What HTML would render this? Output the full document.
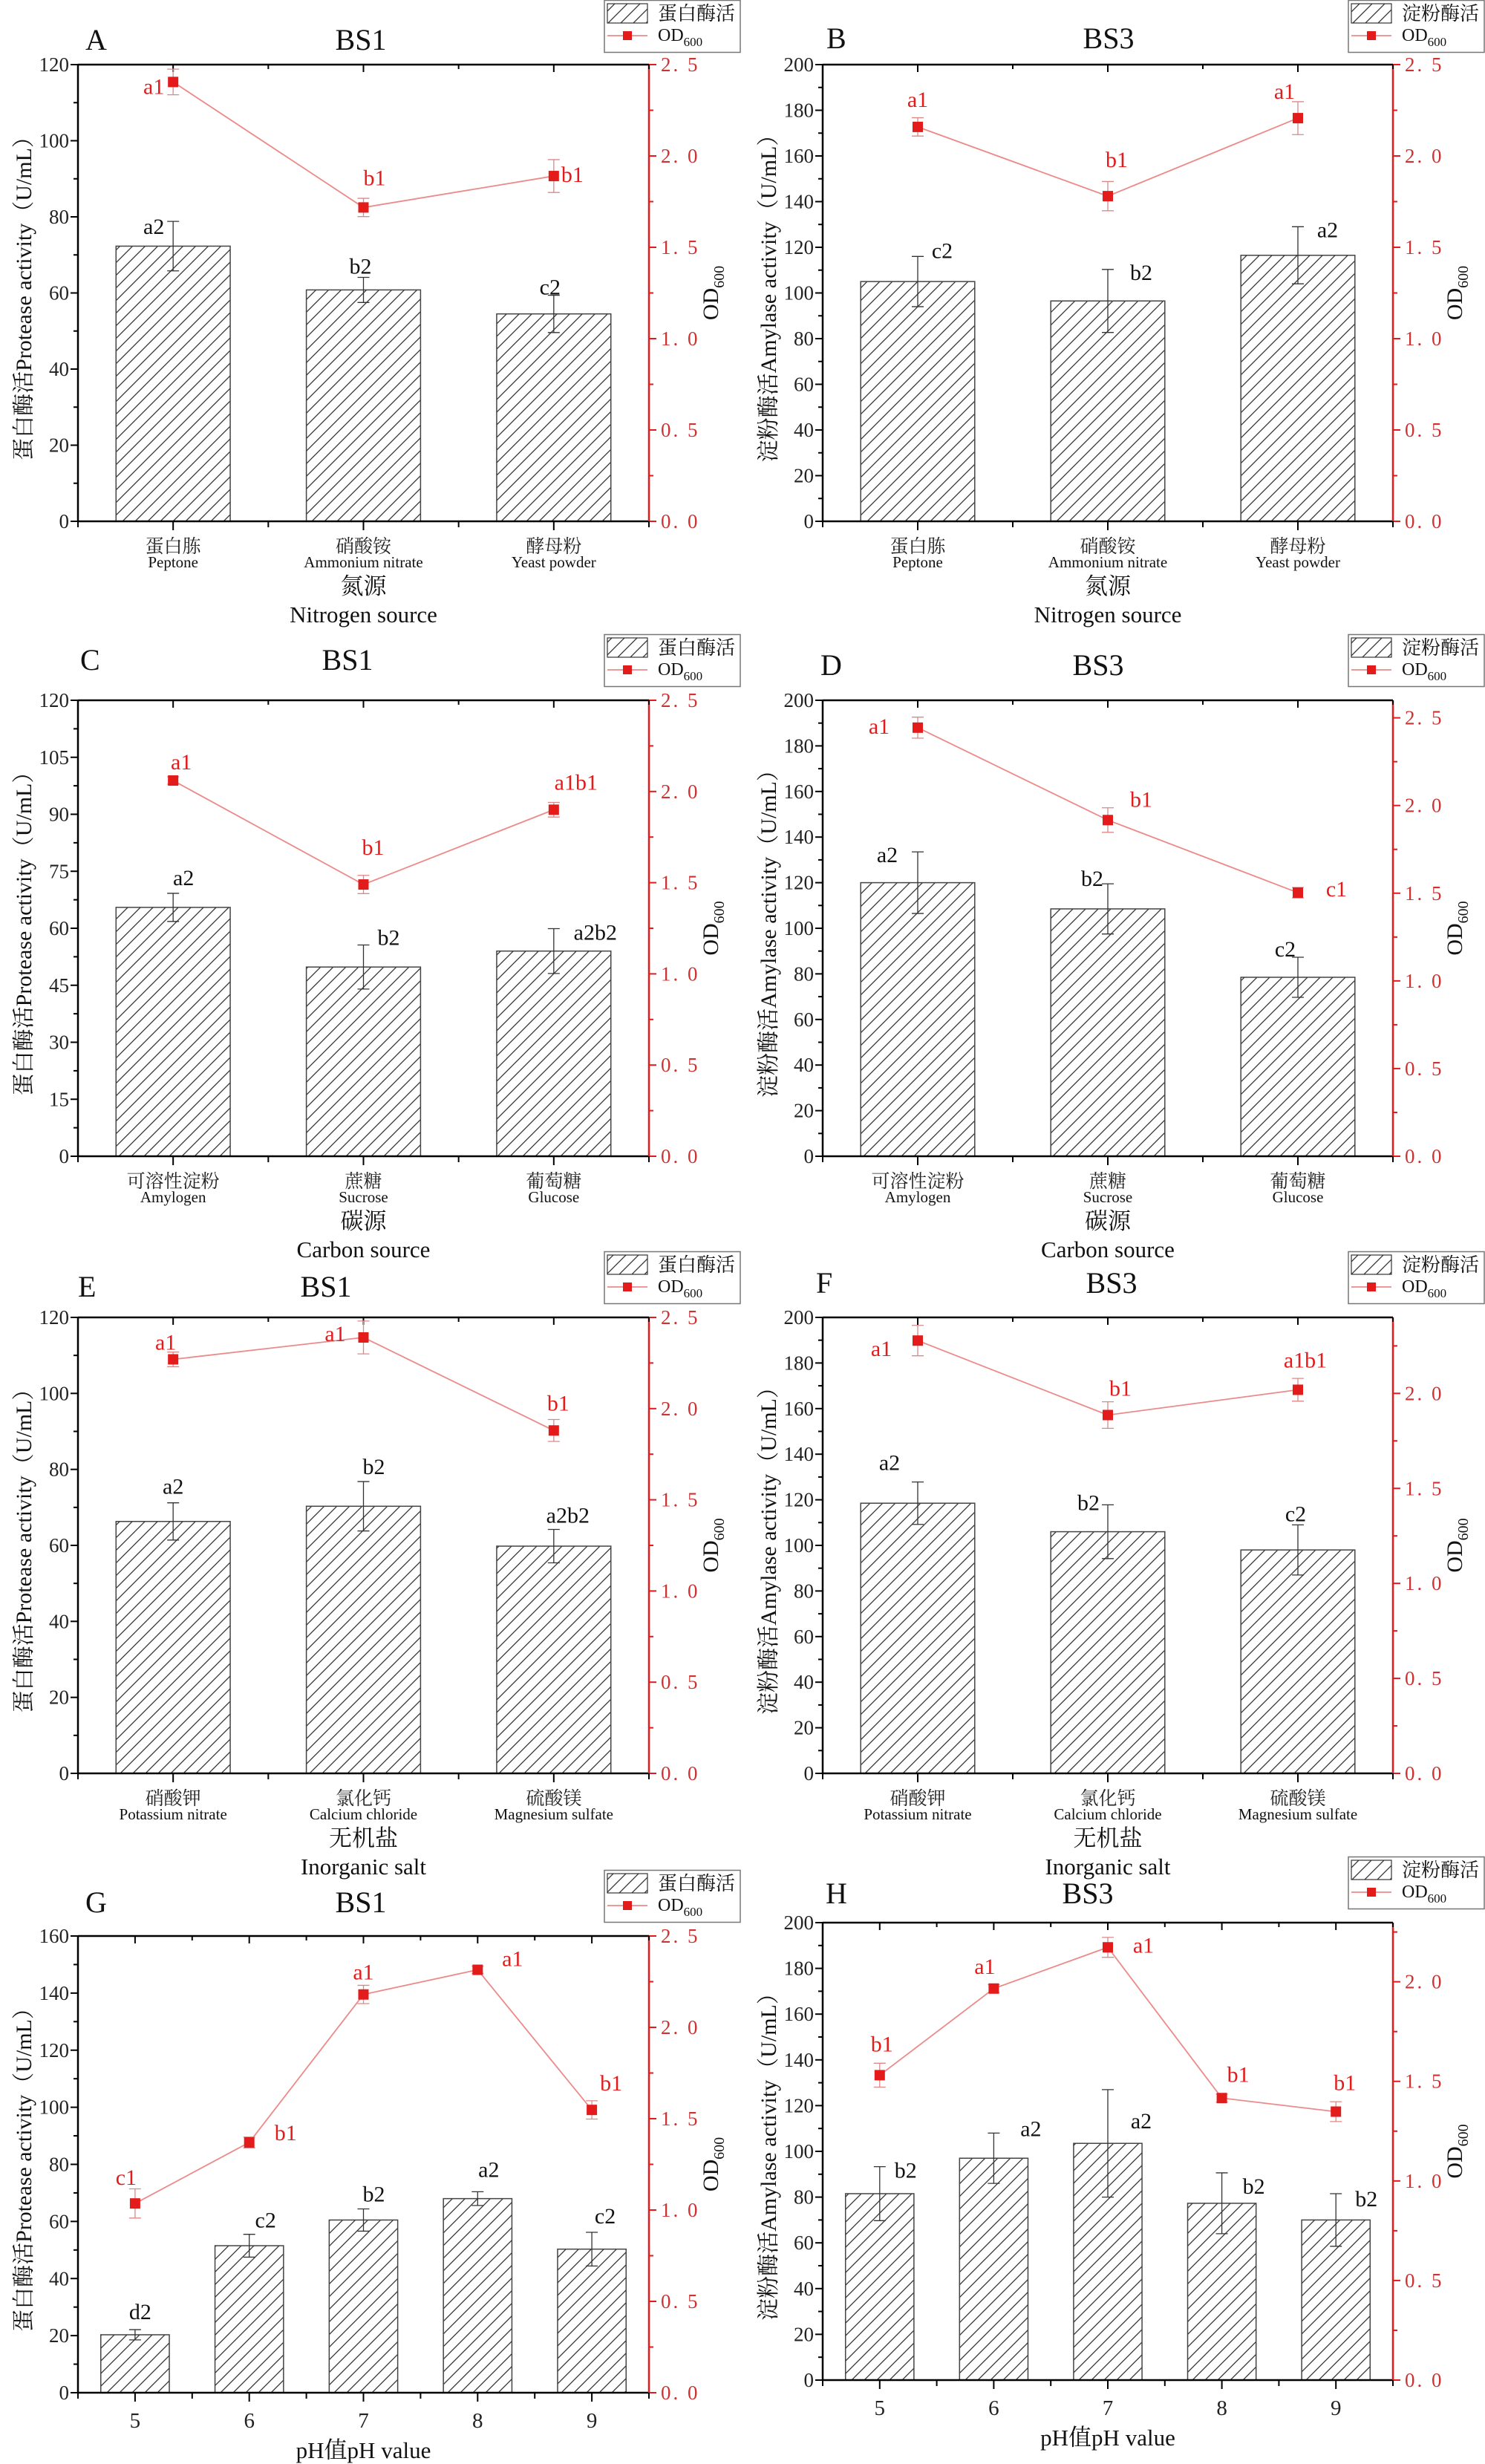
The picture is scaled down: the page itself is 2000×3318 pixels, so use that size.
<!DOCTYPE html>
<html><head><meta charset="utf-8">
<style>
html,body{margin:0;padding:0;background:#fff;}
svg{display:block;font-family:"Liberation Serif","Noto Serif CJK SC",serif;}
</style></head>
<body>
<svg id="fig" xmlns="http://www.w3.org/2000/svg" width="2000" height="3318" viewBox="0 0 2000 3318">
<defs>
<pattern id="hatch" patternUnits="userSpaceOnUse" width="17" height="17">
<path d="M-4,4 l8,-8 M0,17 l17,-17 M13,21 l8,-8" stroke="#333" stroke-width="1.3"/>
</pattern>
</defs>
</svg>
<script>
// ---- data ----
const catsN = [['蛋白胨','Peptone'],['硝酸铵','Ammonium nitrate'],['酵母粉','Yeast powder']];
const catsC = [['可溶性淀粉','Amylogen'],['蔗糖','Sucrose'],['葡萄糖','Glucose']];
const catsS = [['硝酸钾','Potassium nitrate'],['氯化钙','Calcium chloride'],['硫酸镁','Magnesium sulfate']];
const catsP = [['5',''],['6',''],['7',''],['8',''],['9','']];

const barA = [72.3,60.8,54.5];   const barErrA = [6.5,3.3,4.9];
const odA = [2.405,1.718,1.89];  const odErrA = [0.07,0.05,0.09];
const barB = [105,96.5,116.5];   const barErrB = [11,13.8,12.5];
const odB = [2.159,1.78,2.207];  const odErrB = [0.05,0.08,0.09];
const barC = [65.5,49.8,54];     const barErrC = [3.7,5.8,5.9];
const odC = [2.06,1.49,1.9];     const odErrC = [0.02,0.05,0.04];
const barD = [120,108.5,78.5];   const barErrD = [13.5,11,8.8];
const odD = [2.444,1.917,1.503]; const odErrD = [0.06,0.07,0.03];
const barE = [66.3,70.3,59.8];   const barErrE = [4.9,6.5,4.4];
const odE = [2.27,2.39,1.88];    const odErrE = [0.04,0.09,0.06];
const barF = [118.5,106,98];     const barErrF = [9.3,11.8,11];
const odF = [2.278,1.886,2.019]; const odErrF = [0.08,0.07,0.06];
const barG = [20.3,51.5,60.5,68,50.3];      const barErrG = [1.8,4,3.9,2.4,5.9];
const odG = [1.036,1.37,2.18,2.315,1.548];  const odErrG = [0.08,0.03,0.05,0.02,0.05];
const barH = [81.5,97,103.5,77.3,70];       const barErrH = [11.8,11,23.5,13.3,11.5];
const odH = [1.531,1.966,2.173,1.416,1.348];const odErrH = [0.06,0.02,0.05,0.02,0.05];

const barTxtA = ['a2','b2','c2'];  const odTxtA = ['a1','b1','b1'];
const barTxtB = ['c2','b2','a2'];  const odTxtB = ['a1','b1','a1'];
const barTxtC = ['a2','b2','a2b2'];const odTxtC = ['a1','b1','a1b1'];
const barTxtD = ['a2','b2','c2'];  const odTxtD = ['a1','b1','c1'];
const barTxtE = ['a2','b2','a2b2'];const odTxtE = ['a1','a1','b1'];
const barTxtF = ['a2','b2','c2'];  const odTxtF = ['a1','b1','a1b1'];
const barTxtG = ['d2','c2','b2','a2','c2']; const odTxtG = ['c1','b1','a1','a1','b1'];
const barTxtH = ['b2','a2','a2','b2','b2']; const odTxtH = ['b1','a1','a1','b1','b1'];

// label offsets (styling: px offsets from the mark)
const bOffA=[[-26,17],[-4,-5],[-5,-1]], pOffA=[[-26,16],[15,-30],[25,8]];
const bOffB=[[33,2],[45,14],[40,14]],   pOffB=[[0,-27],[12,-39],[-18,-26]];
const bOffC=[[14,-11],[34,0],[56,15]],  pOffC=[[11,-15],[13,-40],[30,-27]];
const bOffD=[[-41,14],[-21,3],[-17,-1]],pOffD=[[-52,8],[45,-18],[52,5]];
const bOffE=[[0,-12],[14,-10],[19,-9]], pOffE=[[-10,-13],[-38,5],[6,-27]];
const bOffF=[[-38,-16],[-26,7],[-3,-5]],pOffF=[[-49,21],[17,-26],[10,-30]];
const bOffG=[[7,-14],[22,-9],[14,-10],[15,-20],[18,-12]], pOffG=[[-12,-25],[49,-3],[0,-20],[47,-5],[26,-26]];
const bOffH=[[35,15],[50,4],[45,52],[43,28],[41,17]],     pOffH=[[3,-32],[-12,-20],[48,7],[22,-22],[12,-29]];

const PROT='蛋白酶活Protease activity（U/mL）', AMY='淀粉酶活Amylase activity（U/mL）';
const panels = [
 {id:'A',strain:'BS1',L:105,R:874,T:87,B:702,yMax:120,yStep:20,rMax:2.5,cats:catsN,bars:barA,be:barErrA,od:odA,oe:odErrA,bt:barTxtA,ot:odTxtA,bo:bOffA,po:pOffA,yt:PROT,leg:'蛋白酶活',lx:814,ly:0,tx:115,bsx:486,tb:67,xt:['氮源','Nitrogen source']},
 {id:'B',strain:'BS3',L:1108,R:1876,T:87,B:702,yMax:200,yStep:20,rMax:2.5,cats:catsN,bars:barB,be:barErrB,od:odB,oe:odErrB,bt:barTxtB,ot:odTxtB,bo:bOffB,po:pOffB,yt:AMY,leg:'淀粉酶活',lx:1816,ly:0,tx:1113,bsx:1493,tb:65,xt:['氮源','Nitrogen source']},
 {id:'C',strain:'BS1',L:105,R:874,T:943,B:1557,yMax:120,yStep:15,rMax:2.5,cats:catsC,bars:barC,be:barErrC,od:odC,oe:odErrC,bt:barTxtC,ot:odTxtC,bo:bOffC,po:pOffC,yt:PROT,leg:'蛋白酶活',lx:814,ly:854,tx:108,bsx:468,tb:902,xt:['碳源','Carbon source']},
 {id:'D',strain:'BS3',L:1108,R:1876,T:943,B:1557,yMax:200,yStep:20,rMax:2.6,cats:catsC,bars:barD,be:barErrD,od:odD,oe:odErrD,bt:barTxtD,ot:odTxtD,bo:bOffD,po:pOffD,yt:AMY,leg:'淀粉酶活',lx:1816,ly:854,tx:1105,bsx:1479,tb:909,xt:['碳源','Carbon source']},
 {id:'E',strain:'BS1',L:105,R:874,T:1774,B:2388,yMax:120,yStep:20,rMax:2.5,cats:catsS,bars:barE,be:barErrE,od:odE,oe:odErrE,bt:barTxtE,ot:odTxtE,bo:bOffE,po:pOffE,yt:PROT,leg:'蛋白酶活',lx:814,ly:1685,tx:105,bsx:439,tb:1746,xt:['无机盐','Inorganic salt']},
 {id:'F',strain:'BS3',L:1108,R:1876,T:1774,B:2388,yMax:200,yStep:20,rMax:2.4,cats:catsS,bars:barF,be:barErrF,od:odF,oe:odErrF,bt:barTxtF,ot:odTxtF,bo:bOffF,po:pOffF,yt:AMY,leg:'淀粉酶活',lx:1816,ly:1685,tx:1099,bsx:1497,tb:1741,xt:['无机盐','Inorganic salt']},
 {id:'G',strain:'BS1',L:105,R:874,T:2607,B:3222,yMax:160,yStep:20,rMax:2.5,cats:catsP,bars:barG,be:barErrG,od:odG,oe:odErrG,bt:barTxtG,ot:odTxtG,bo:bOffG,po:pOffG,yt:PROT,leg:'蛋白酶活',lx:814,ly:2518,tx:115,bsx:486,tb:2575,xt:['pH值pH value']},
 {id:'H',strain:'BS3',L:1108,R:1876,T:2589,B:3205,yMax:200,yStep:20,rMax:2.297,cats:catsP,bars:barH,be:barErrH,od:odH,oe:odErrH,bt:barTxtH,ot:odTxtH,bo:bOffH,po:pOffH,yt:AMY,leg:'淀粉酶活',lx:1816,ly:2500,tx:1112,bsx:1465,tb:2563,xt:['pH值pH value']}
];

const NS='http://www.w3.org/2000/svg';
const svg=document.getElementById('fig');
const RED='#e31b1b', LRED='#ec8a8a', TRED='#cc3333';
function mk(tag,attrs,parent,txt){const e=document.createElementNS(NS,tag);for(const k in attrs)e.setAttribute(k,attrs[k]);if(txt!==undefined)e.textContent=txt;(parent||svg).appendChild(e);return e;}

panels.forEach(p=>{
  const g=mk('g',{});
  
  
  const n=p.cats.length, bw=(p.R-p.L)/n;
  const xc=i=>p.L+bw*(i+0.5);
  const yL=v=>p.B-(v/p.yMax)*(p.B-p.T);
  const yR=v=>p.B-(v/p.rMax)*(p.B-p.T);

  // bars
  p.bars.forEach((v,i)=>{
    const w=bw*0.6;
    const r=mk('rect',{x:xc(i)-w/2,y:yL(v),width:w,height:p.B-yL(v),fill:'url(#hatch)',stroke:'#444','stroke-width':1.5},g);
    
    
    const e=p.be[i], x=xc(i);
    const eb=mk('path',{d:`M${x},${yL(v+e)}V${yL(v-e)}M${x-8},${yL(v+e)}h16M${x-8},${yL(v-e)}h16`,stroke:'#333','stroke-width':1.3,fill:'none'},g);
    
    
    const t=mk('text',{x:x+p.bo[i][0],y:yL(v+e)+p.bo[i][1],'font-size':30,'text-anchor':'middle',fill:'#111'},g,p.bt[i]);
    
    
  });

  // axes frame
  mk('line',{x1:p.L,y1:p.T,x2:p.R,y2:p.T,stroke:'#000','stroke-width':2.5},g);
  mk('line',{x1:p.L,y1:p.B,x2:p.R,y2:p.B,stroke:'#000','stroke-width':2.5},g);
  const la=mk('line',{x1:p.L,y1:p.T,x2:p.L,y2:p.B,stroke:'#000','stroke-width':2.5},g);
  
  
  const ra=mk('line',{x1:p.R,y1:p.T,x2:p.R,y2:p.B,stroke:RED,'stroke-width':2.5},g);
  
  

  // left ticks
  for(let v=0;v<=p.yMax+1e-6;v+=p.yStep/2){
    const y=yL(v), major=Math.abs((v/p.yStep)-Math.round(v/p.yStep))<1e-6;
    mk('line',{x1:p.L-(major?10:6),y1:y,x2:p.L,y2:y,stroke:'#000','stroke-width':2},g);
    if(major){const t=mk('text',{x:p.L-12,y:y+9,'font-size':27,'text-anchor':'end',fill:'#222'},g,String(v));
      
      }
  }
  // right ticks
  for(let k=0;k*0.25<=p.rMax+1e-6;k++){
    const v=k*0.25,y=yR(v),major=k%2===0;
    mk('line',{x1:p.R,y1:y,x2:p.R+(major?10:6),y2:y,stroke:RED,'stroke-width':2},g);
    if(major){const t=mk('text',{x:p.R+16,y:y+9,'font-size':27,fill:TRED,'letter-spacing':3},g,v.toFixed(1).replace('.','. '));
      
      }
  }
  // x ticks
  for(let i=0;i<=2*n;i++){
    const x=p.L+bw*i/2;
    mk('line',{x1:x,y1:p.B,x2:x,y2:p.B+(i%2?12:8),stroke:'#000','stroke-width':2},g);
    mk('line',{x1:x,y1:p.T,x2:x,y2:p.T+(i%2?10:6),stroke:'#000','stroke-width':2},g);
  }
  // category labels
  p.cats.forEach((c,i)=>{
    if(c[1]===''){
      const t=mk('text',{x:xc(i),y:p.B+47,'font-size':29,'text-anchor':'middle',fill:'#222'},g,c[0]);
      
      
    } else {
      const t=mk('text',{x:xc(i),y:p.B+42,'font-size':25,'text-anchor':'middle',fill:'#222'},g,c[0]);
      
      
      const t2=mk('text',{x:xc(i),y:p.B+62,'font-size':21,'text-anchor':'middle',fill:'#111'},g,c[1]);
      
      
    }
  });
  // x title
  if(p.xt.length===2){
    const t=mk('text',{x:(p.L+p.R)/2,y:p.B+98,'font-size':31,'text-anchor':'middle',fill:'#111'},g,p.xt[0]);
    
    
    const t2=mk('text',{x:(p.L+p.R)/2,y:p.B+136,'font-size':31,'text-anchor':'middle',fill:'#111'},g,p.xt[1]);
    
    
  } else {
    const t=mk('text',{x:(p.L+p.R)/2,y:p.B+88,'font-size':31,'text-anchor':'middle',fill:'#111'},g,p.xt[0]);
    
    
  }
  // y titles
  const cy=(p.T+p.B)/2;
  const yt=mk('text',{x:p.L-70,y:cy,'font-size':30,'text-anchor':'middle',transform:`rotate(-90 ${p.L-70} ${cy})`,fill:'#111','dominant-baseline':'middle'},g,p.yt);
  
  
  const rx=p.R+93;
  const rt=mk('text',{x:rx,y:cy,'font-size':30,'text-anchor':'middle',transform:`rotate(-90 ${rx} ${cy})`,fill:'#111'},g);
  
  
  mk('tspan',{},rt,'OD');
  mk('tspan',{'font-size':20,dy:8},rt,'600');

  // OD line
  const pts=p.od.map((v,i)=>xc(i)+','+yR(v)).join(' ');
  const pl=mk('polyline',{points:pts,fill:'none',stroke:LRED,'stroke-width':1.8},g);
  
  
  p.od.forEach((v,i)=>{
    const x=xc(i),e=p.oe[i];
    mk('path',{d:`M${x},${yR(v+e)}V${yR(v-e)}M${x-8},${yR(v+e)}h16M${x-8},${yR(v-e)}h16`,stroke:'#d88','stroke-width':1.3,fill:'none'},g);
    const s=mk('rect',{x:x-7,y:yR(v)-7,width:14,height:14,fill:RED},g);
    
    
    const t=mk('text',{x:x+p.po[i][0],y:yR(v)+p.po[i][1],'font-size':30,'text-anchor':'middle',fill:RED},g,p.ot[i]);
    
    
  });

  // titles
  const pl2=mk('text',{x:p.tx,y:p.tb,'font-size':40,fill:'#111'},g,p.id);
  
  
  const st=mk('text',{x:p.bsx,y:p.tb,'font-size':40,'text-anchor':'middle',fill:'#111'},g,p.strain);
  
  

  // legend
  const lg=mk('g',{},g);
  
  
  mk('rect',{x:p.lx,y:p.ly+0.5,width:183,height:70,fill:'#fff',stroke:'#777','stroke-width':1.5},lg);
  mk('rect',{x:p.lx+4,y:p.ly+5,width:54,height:26,fill:'url(#hatch)',stroke:'#333','stroke-width':1.2},lg);
  const l1=mk('text',{x:p.lx+72,y:p.ly+27,'font-size':26,fill:'#111'},lg,p.leg);
  
  
  mk('line',{x1:p.lx+4,y1:p.ly+48,x2:p.lx+58,y2:p.ly+48,stroke:LRED,'stroke-width':1.8},lg);
  mk('rect',{x:p.lx+25,y:p.ly+42,width:12,height:12,fill:RED},lg);
  const l2=mk('text',{x:p.lx+72,y:p.ly+55,'font-size':24,fill:'#111'},lg);
  
  
  mk('tspan',{},l2,'OD');
  mk('tspan',{'font-size':17,dy:7},l2,'600');
});
</script>
</body></html>
